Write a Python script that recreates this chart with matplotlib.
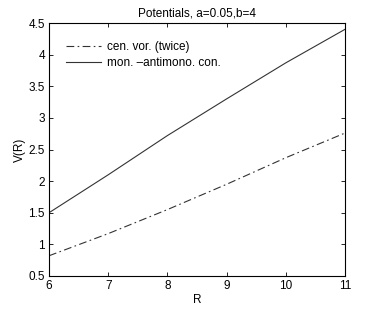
import matplotlib
matplotlib.use('Agg')
import matplotlib.pyplot as plt

plt.rcParams['font.family'] = ['Liberation Sans', 'DejaVu Sans']
plt.rcParams['font.size'] = 8.5

R = [6, 7, 8, 9, 10, 11]
cen_vor = [0.82, 1.17, 1.55, 1.95, 2.37, 2.76]
mon_anti = [1.5, 2.1, 2.72, 3.3, 3.87, 4.4]

fig = plt.figure(figsize=(3.82, 3.11), dpi=100)
ax = fig.add_axes([49/382, 1 - 276/311, 296/382, 253/311])

ax.plot(R, cen_vor, color='#333333', linestyle=(0, (7, 3, 1.5, 3)), linewidth=0.8, label='cen. vor. (twice)')
ax.plot(R, mon_anti, color='#333333', linestyle='-', linewidth=0.8, label='mon. \u2013antimono. con.')

ax.set_xlim(6, 11)
ax.set_ylim(0.5, 4.5)
ax.set_xticks([6, 7, 8, 9, 10, 11])
ax.set_yticks([0.5, 1, 1.5, 2, 2.5, 3, 3.5, 4, 4.5])
ax.set_yticklabels(['0.5', '1', '1.5', '2', '2.5', '3', '3.5', '4', '4.5'])
ax.tick_params(direction='in', top=True, right=True, length=3, width=0.6, pad=3)
for s in ax.spines.values():
    s.set_linewidth(0.8)

ax.set_xlabel('R', labelpad=1)
ax.set_ylabel('V(R)', labelpad=2)
ax.set_title('Potentials, a=0.05,b=4', fontsize=8.5, pad=5)

ax.legend(loc='upper left', frameon=False, bbox_to_anchor=(0.02, 0.97),
          handlelength=3.0, handletextpad=0.5, labelspacing=0.35)

fig.savefig('out.png', dpi=100)
